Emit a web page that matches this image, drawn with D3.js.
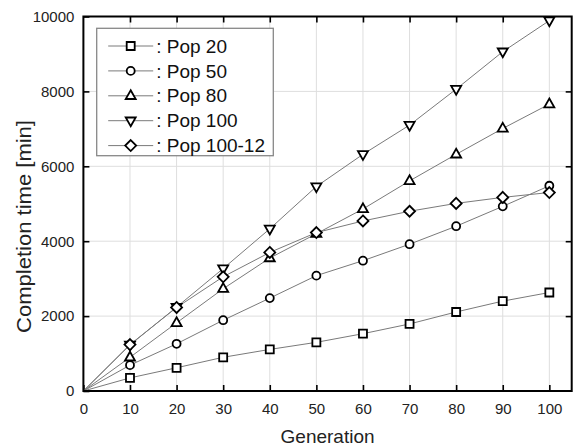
<!DOCTYPE html>
<html>
<head>
<meta charset="utf-8">
<script src="https://cdn.jsdelivr.net/npm/d3@7"></script>
<style>
  html, body { margin: 0; padding: 0; background: #fff; }
  svg { display: block; font-family: "Liberation Sans", Arial, sans-serif; }
</style>
</head>
<body>
<svg id="chart" width="575" height="445"></svg>
<script>
// Generations sampled
const generations = [0, 10, 20, 30, 40, 50, 60, 70, 80, 90, 100];

// Completion time [min] per population setting
const pop20    = [0, 350, 620, 900, 1110, 1300, 1530, 1790, 2110, 2400, 2630];
const pop50    = [0, 690, 1260, 1890, 2480, 3080, 3480, 3920, 4400, 4930, 5480];
const pop80    = [0, 900, 1820, 2730, 3550, 4200, 4860, 5610, 6320, 7010, 7660];
const pop100   = [0, 1230, 2240, 3270, 4330, 5460, 6320, 7100, 8060, 9060, 9890];
const pop10012 = [0, 1240, 2230, 3050, 3700, 4230, 4540, 4800, 5010, 5170, 5300];

const seriesNames = [": Pop 20", ": Pop 50", ": Pop 80", ": Pop 100", ": Pop 100-12"];
const seriesValues = [pop20, pop50, pop80, pop100, pop10012];
const markerShapes = ["square", "circle", "triUp", "triDown", "diamond"];

const xTicks = [0, 10, 20, 30, 40, 50, 60, 70, 80, 90, 100];
const yTicks = [0, 2000, 4000, 6000, 8000, 10000];

const W = 575, H = 445;
const margin = { left: 83.4, top: 16.5, right: 3.3, bottom: 54 };
const plotW = W - margin.left - margin.right;
const plotH = H - margin.top - margin.bottom;

const svg = d3.select("#chart");
const g = svg.append("g").attr("transform", `translate(${margin.left},${margin.top})`);

const x = d3.scaleLinear().domain([0, 104.8]).range([0, plotW]);
const y = d3.scaleLinear().domain([0, 10000]).range([plotH, 0]);

// Light grid at inner ticks
g.append("g").selectAll("line.gx")
  .data(xTicks.filter(t => t > 0))
  .join("line")
  .attr("x1", d => x(d)).attr("x2", d => x(d))
  .attr("y1", 0).attr("y2", plotH)
  .attr("stroke", "#dedede").attr("stroke-width", 1);
g.append("g").selectAll("line.gy")
  .data(yTicks.filter(t => t > 0 && t < 10000))
  .join("line")
  .attr("x1", 0).attr("x2", plotW)
  .attr("y1", d => y(d)).attr("y2", d => y(d))
  .attr("stroke", "#dedede").attr("stroke-width", 1);

// Axes with inward ticks on all four sides
const tickLen = 6;
function styleAxis(sel, showLabels) {
  sel.select(".domain").remove();
  sel.selectAll(".tick line").attr("stroke", "#000").attr("stroke-width", 1.6);
  sel.selectAll(".tick text")
    .attr("fill", "#222")
    .style("font-size", "15px")
    .style("display", showLabels ? null : "none");
}

g.append("g").attr("transform", `translate(0,${plotH})`)
  .call(d3.axisBottom(x).tickValues(xTicks).tickSizeInner(-tickLen).tickSizeOuter(0).tickPadding(12).tickFormat(d3.format("d")))
  .call(s => styleAxis(s, true));
g.append("g")
  .call(d3.axisTop(x).tickValues(xTicks.filter(t => t > 0)).tickSizeInner(-tickLen).tickSizeOuter(0))
  .call(s => styleAxis(s, false));
g.append("g")
  .call(d3.axisLeft(y).tickValues(yTicks).tickSizeInner(-tickLen).tickSizeOuter(0).tickPadding(9).tickFormat(d3.format("d")))
  .call(s => styleAxis(s, true));
g.append("g").attr("transform", `translate(${plotW},0)`)
  .call(d3.axisRight(y).tickValues(yTicks.filter(t => t > 0 && t < 10000)).tickSizeInner(-tickLen).tickSizeOuter(0))
  .call(s => styleAxis(s, false));

// Marker path generator
function markerPath(shape) {
  switch (shape) {
    case "square": return "M-4,-4H4V4H-4Z";
    case "circle": return "M4,0A4,4 0 1,1 -4,0A4,4 0 1,1 4,0Z";
    case "triUp": return "M0,-5.6L5,3.2L-5,3.2Z";
    case "triDown": return "M0,5.6L5,-3.2L-5,-3.2Z";
    case "diamond": return "M0,-5.5L5.5,0L0,5.5L-5.5,0Z";
  }
}

const line = d3.line().x(d => x(d[0])).y(d => y(d[1]));

// Series lines
seriesValues.forEach(vals => {
  const pts = generations.map((gen, i) => [gen, vals[i]]);
  g.append("path").datum(pts)
    .attr("d", line)
    .attr("fill", "none")
    .attr("stroke", "#7a7a7a")
    .attr("stroke-width", 1);
});

// Series markers (origin point carries no marker)
seriesValues.forEach((vals, si) => {
  const pts = generations.map((gen, i) => [gen, vals[i]]).filter(p => p[0] > 0);
  g.append("g").selectAll("path")
    .data(pts)
    .join("path")
    .attr("transform", d => `translate(${x(d[0])},${y(d[1])})`)
    .attr("d", markerPath(markerShapes[si]))
    .attr("fill", "#fff")
    .attr("stroke", "#000")
    .attr("stroke-width", 1.8);
});

// Plot frame
g.append("rect")
  .attr("x", 0).attr("y", 0).attr("width", plotW).attr("height", plotH)
  .attr("fill", "none").attr("stroke", "#000").attr("stroke-width", 2);

// Legend
const legX = 96.7 - margin.left, legY = 28.3 - margin.top;
const legend = g.append("g").attr("transform", `translate(${legX},${legY})`);
legend.append("rect")
  .attr("width", 176.6).attr("height", 127.4)
  .attr("fill", "#fff").attr("stroke", "#888").attr("stroke-width", 1.3);
seriesNames.forEach((name, i) => {
  const cy = 17.7 + i * 24.9;
  const row = legend.append("g").attr("transform", `translate(0,${cy})`);
  row.append("line").attr("x1", 11.5).attr("x2", 56.5).attr("y1", 0).attr("y2", 0)
    .attr("stroke", "#7a7a7a").attr("stroke-width", 1);
  row.append("path").attr("transform", "translate(34,0)")
    .attr("d", markerPath(markerShapes[i]))
    .attr("fill", "#fff").attr("stroke", "#000").attr("stroke-width", 1.8);
  row.append("text").attr("x", 59.5).attr("y", 0).attr("dy", "0.35em")
    .style("font-size", "19px").attr("fill", "#111").text(name);
});

// Axis titles
svg.append("text")
  .attr("x", margin.left + plotW / 2).attr("y", 442.5)
  .attr("text-anchor", "middle")
  .style("font-size", "19px").attr("fill", "#222")
  .text("Generation");
svg.append("text")
  .attr("transform", "translate(31,226.5) rotate(-90)")
  .attr("text-anchor", "middle")
  .attr("textLength", 213).attr("lengthAdjust", "spacingAndGlyphs")
  .style("font-size", "20px").attr("fill", "#222")
  .text("Completion time [min]");
</script>
</body>
</html>
